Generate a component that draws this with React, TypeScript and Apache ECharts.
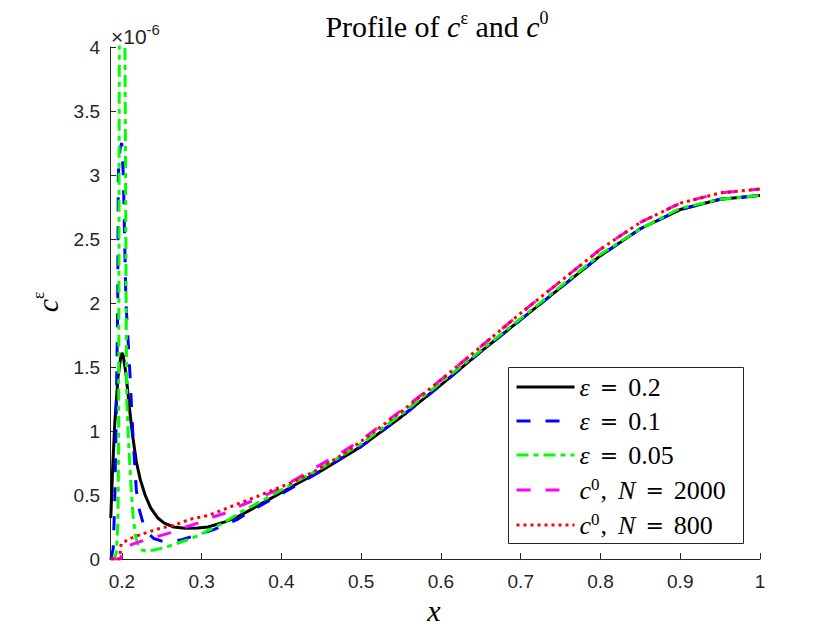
import React, { useEffect, useRef } from "react";
import * as echarts from "echarts";

// values in units of 1e-6
const X_TICKS = [0.2, 0.3, 0.4, 0.5, 0.6, 0.7, 0.8, 0.9, 1];

const X_EPS02 = [0.186, 0.188, 0.191, 0.195, 0.1985, 0.2, 0.2015, 0.205, 0.209, 0.213, 0.218, 0.223, 0.229, 0.236, 0.245, 0.253, 0.265, 0.279, 0.295, 0.308, 0.329, 0.345, 0.36, 0.38, 0.4, 0.42, 0.45, 0.5, 0.55, 0.6, 0.65, 0.7, 0.75, 0.8, 0.85, 0.9, 0.95, 1.0];
const Y_EPS02 = [0.32, 0.66, 1.06, 1.42, 1.58, 1.61, 1.59, 1.45, 1.2, 0.98, 0.76, 0.62, 0.5, 0.4, 0.32, 0.28, 0.25, 0.24, 0.243, 0.25, 0.29, 0.33, 0.38, 0.45, 0.52, 0.59, 0.69, 0.88, 1.11, 1.36, 1.62, 1.87, 2.12, 2.37, 2.58, 2.73, 2.81, 2.84];

const X_EPS01 = [0.186, 0.189, 0.191, 0.193, 0.1947, 0.1954, 0.1975, 0.1997, 0.2017, 0.205, 0.21, 0.214, 0.218, 0.222, 0.227, 0.233, 0.24, 0.25, 0.26, 0.275, 0.29, 0.3, 0.315, 0.33, 0.345, 0.36, 0.38, 0.4, 0.42, 0.45, 0.5, 0.55, 0.6, 0.65, 0.7, 0.75, 0.8, 0.85, 0.9, 0.95, 1.0];
const Y_EPS01 = [0, 0.08, 0.45, 1.2, 2.0, 3.0, 3.2, 3.25, 3.0, 2.0, 1.45, 0.93, 0.54, 0.38, 0.27, 0.2, 0.16, 0.14, 0.135, 0.15, 0.18, 0.2, 0.23, 0.27, 0.31, 0.37, 0.44, 0.51, 0.58, 0.69, 0.88, 1.11, 1.36, 1.62, 1.87, 2.12, 2.37, 2.58, 2.73, 2.81, 2.84];

const X_EPS005 = [0.186, 0.19, 0.193, 0.195, 0.1958, 0.1963, 0.1967, 0.2, 0.2036, 0.2045, 0.2052, 0.206, 0.208, 0.21, 0.212, 0.214, 0.217, 0.2205, 0.225, 0.231, 0.24, 0.25, 0.264, 0.275, 0.287, 0.298, 0.31, 0.327, 0.35, 0.38, 0.4, 0.42, 0.45, 0.5, 0.55, 0.6, 0.65, 0.7, 0.75, 0.8, 0.85, 0.9, 0.95, 1.0];
const Y_EPS005 = [0, 0, 0.05, 0.3, 1.0, 2.5, 4.2, 6.2, 4.2, 3.0, 2.0, 1.24, 0.95, 0.72, 0.5, 0.33, 0.18, 0.1, 0.07, 0.06, 0.07, 0.085, 0.11, 0.135, 0.16, 0.19, 0.23, 0.28, 0.37, 0.47, 0.54, 0.61, 0.71, 0.9, 1.13, 1.38, 1.63, 1.88, 2.13, 2.38, 2.58, 2.74, 2.81, 2.84];

const X_N2000 = [0.186, 0.1985, 0.2, 0.205, 0.215, 0.235, 0.258, 0.275, 0.295, 0.315, 0.335, 0.35, 0.37, 0.394, 0.42, 0.444, 0.47, 0.5, 0.55, 0.6, 0.65, 0.7, 0.75, 0.8, 0.85, 0.9, 0.95, 1.0];
const Y_N2000 = [0, 0, 0.08, 0.095, 0.12, 0.16, 0.2, 0.24, 0.28, 0.33, 0.37, 0.42, 0.47, 0.54, 0.63, 0.72, 0.81, 0.93, 1.16, 1.4, 1.66, 1.92, 2.17, 2.42, 2.63, 2.78, 2.86, 2.89];

const X_N800 = [0.186, 0.197, 0.199, 0.21, 0.228, 0.245, 0.266, 0.285, 0.308, 0.327, 0.349, 0.37, 0.39, 0.41, 0.44, 0.47, 0.5, 0.55, 0.6, 0.65, 0.7, 0.75, 0.8, 0.85, 0.9, 0.95, 1.0];
const Y_N800 = [0, 0, 0.12, 0.16, 0.2, 0.235, 0.265, 0.31, 0.34, 0.385, 0.44, 0.49, 0.54, 0.59, 0.68, 0.79, 0.92, 1.15, 1.4, 1.66, 1.92, 2.17, 2.42, 2.63, 2.78, 2.86, 2.89];

const NAMES = ["eps02", "eps01", "eps005", "n2000", "n800"];
const LABELS: Record<string, string> = {
  eps02: "{i|ε}{e|=}{r|0.2}",
  eps01: "{i|ε}{e|=}{r|0.1}",
  eps005: "{i|ε}{e|=}{r|0.05}",
  n2000: "{i|c}{s|0}{c|,}{i|N}{e|=}{r|2000}",
  n800: "{i|c}{s|0}{c|,}{i|N}{e|=}{r|800}",
};

const zip = (xs: number[], ys: number[]) => xs.map((x, i) => [x, ys[i]]);

const SERIF = "'Liberation Serif', 'DejaVu Serif', serif";
const SANS = "'Liberation Sans', Arial, sans-serif";

export default function App() {
  const ref = useRef<HTMLDivElement>(null);
  useEffect(() => {
    document.body.style.margin = "0";
    const chart = echarts.init(ref.current!, null, { renderer: "svg" });
    const mk = (name: string, xs: number[], ys: number[], color: string, type: any, width: number) => ({
      name,
      type: "line",
      data: zip(xs, ys),
      symbol: "none",
      showSymbol: false,
      clip: true,
      z: 2,
      lineStyle: { color, width, type },
      itemStyle: { color },
    });
    const rich = {
      r: { fontFamily: SERIF, fontSize: 26, lineHeight: 28, color: "#000" },
      i: { fontFamily: SERIF, fontSize: 26, fontStyle: "italic", lineHeight: 28, color: "#000" },
      c: { fontFamily: SERIF, fontSize: 26, lineHeight: 28, padding: [0, 11, 0, 1], color: "#000" },
      e: { fontFamily: "'DejaVu Serif', serif", fontSize: 22, lineHeight: 28, padding: [0, 10, 0, 10], color: "#000" },
      s: { fontFamily: SERIF, fontSize: 17, lineHeight: 16, verticalAlign: "top", color: "#000" },
    };
    chart.setOption({
      animation: false,
      backgroundColor: "#fff",
      grid: { left: 110, right: 80, top: 47, bottom: 71, containLabel: false, outerBoundsMode: "none" },
      xAxis: {
        type: "value",
        min: 0.185,
        max: 1,
        axisLine: { show: true, onZero: false, lineStyle: { color: "#262626", width: 1 } },
        axisTick: { show: true, inside: true, length: 6, customValues: X_TICKS, lineStyle: { color: "#262626" } },
        axisLabel: {
          show: true,
          customValues: X_TICKS,
          margin: 13,
          fontFamily: SANS,
          fontSize: 19,
          color: "#262626",
          formatter: (v: number) => String(Math.round(v * 10) / 10),
        },
        splitLine: { show: false },
      },
      yAxis: {
        type: "value",
        min: 0,
        max: 4,
        interval: 0.5,
        axisLine: { show: true, onZero: false, lineStyle: { color: "#262626", width: 1 } },
        axisTick: { show: true, inside: true, length: 6, lineStyle: { color: "#262626" } },
        axisLabel: { margin: 10, fontFamily: SANS, fontSize: 19, color: "#262626" },
        splitLine: { show: false },
      },
      legend: {
        orient: "vertical",
        left: 508,
        top: 367,
        padding: [7, 6, 4, 7],
        itemWidth: 58,
        itemHeight: 14,
        itemGap: 8,
        z: 10,
        selectedMode: false,
        backgroundColor: "transparent",
        borderWidth: 0,
        data: NAMES,
        lineStyle: { width: 3 },
        itemStyle: { color: "transparent", borderWidth: 0, opacity: 0 },
        formatter: (name: string) => LABELS[name],
        textStyle: { fontFamily: SERIF, fontSize: 26, color: "#000", rich },
      },
      graphic: [
        {
          type: "rect",
          z: 5,
          shape: { x: 508.5, y: 367.5, width: 235, height: 176 },
          style: { fill: "#fff", stroke: "#262626", lineWidth: 1 },
        },
        {
          type: "text",
          x: 437,
          y: 26,
          style: {
            text: "{r|Profile of }{i|c}{s|ε}{r| and }{i|c}{s|0}",
            align: "center",
            verticalAlign: "middle",
            rich: {
              r: { fontFamily: SERIF, fontSize: 30, lineHeight: 34, fill: "#000" },
              i: { fontFamily: SERIF, fontSize: 30, fontStyle: "italic", lineHeight: 34, fill: "#000" },
              s: { fontFamily: SERIF, fontSize: 18, lineHeight: 18, verticalAlign: "top", fill: "#000" },
            },
          },
        },
        {
          type: "text",
          x: 111,
          y: 36,
          style: {
            text: "{a|×10}{s|-6}",
            align: "left",
            verticalAlign: "middle",
            rich: {
              a: { fontFamily: SANS, fontSize: 21, lineHeight: 28, fill: "#262626" },
              s: { fontFamily: SANS, fontSize: 15, lineHeight: 15, verticalAlign: "top", fill: "#262626" },
            },
          },
        },
        {
          type: "text",
          x: 47,
          y: 302,
          rotation: Math.PI / 2,
          style: {
            text: "{i|c}{s|ε}",
            align: "center",
            verticalAlign: "middle",
            rich: {
              i: { fontFamily: SERIF, fontSize: 30, fontStyle: "italic", lineHeight: 34, fill: "#000" },
              s: { fontFamily: SERIF, fontSize: 17, lineHeight: 17, verticalAlign: "top", fill: "#000" },
            },
          },
        },
        {
          type: "text",
          x: 434,
          y: 610,
          style: {
            text: "x",
            align: "center",
            verticalAlign: "middle",
            fontFamily: SERIF,
            fontSize: 30,
            fontStyle: "italic",
            fill: "#000",
          },
        },
      ],
      series: [
        mk("eps02", X_EPS02, Y_EPS02, "#000000", "solid", 3),
        mk("eps01", X_EPS01, Y_EPS01, "#0000ff", [14, 15], 3),
        mk("eps005", X_EPS005, Y_EPS005, "#00ff00", [12, 5, 5, 5], 3),
        mk("n2000", X_N2000, Y_N2000, "#ff00ff", [14, 15], 3),
        mk("n800", X_N800, Y_N800, "#ff0000", [3, 4], 3),
      ],
    });
    return () => chart.dispose();
  }, []);
  return <div ref={ref} style={{ width: 840, height: 630 }} />;
}
